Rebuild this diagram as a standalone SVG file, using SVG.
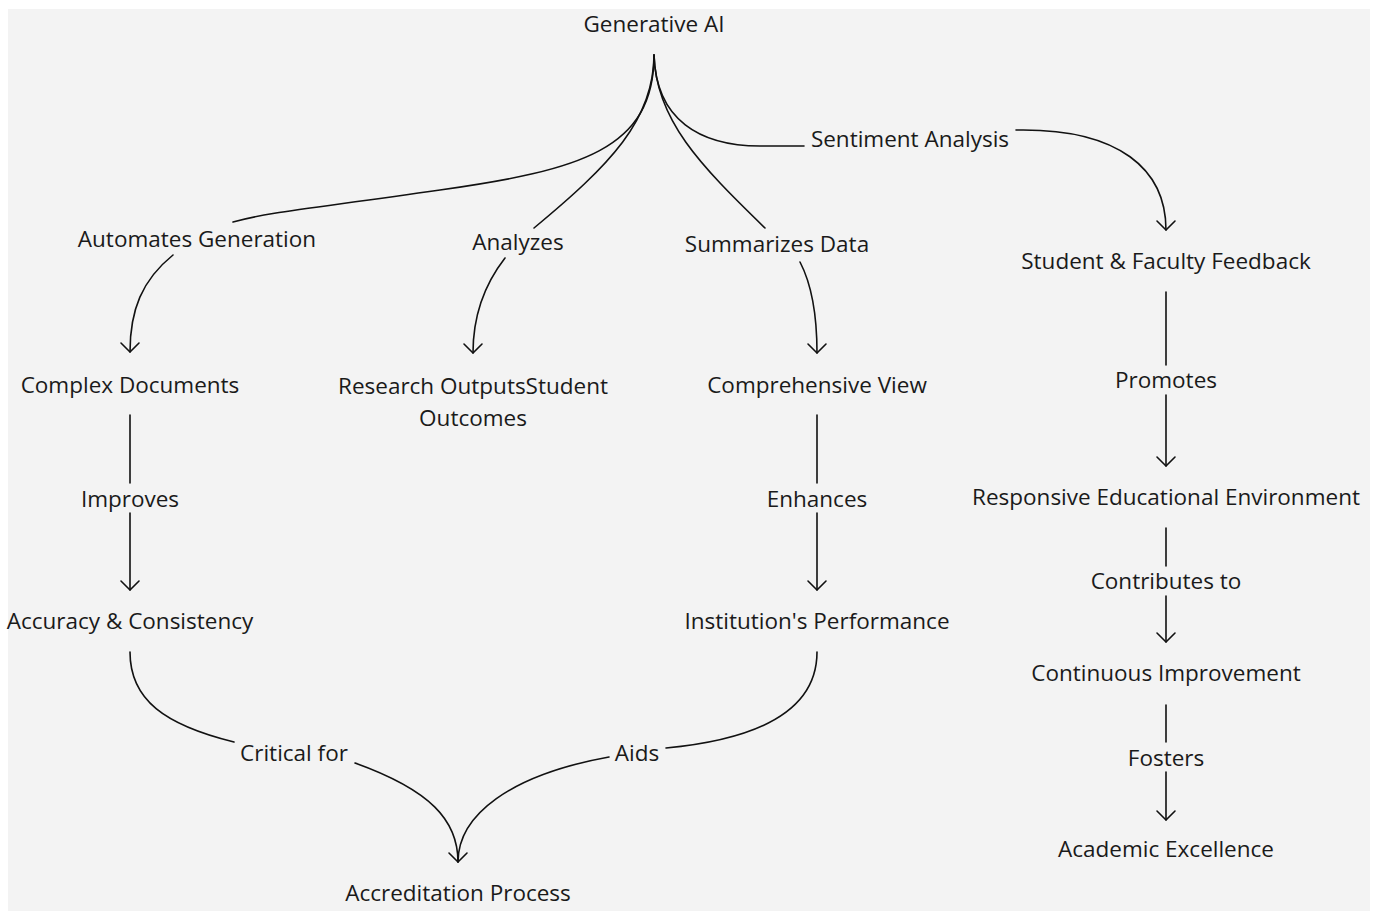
<svg xmlns="http://www.w3.org/2000/svg" width="1374" height="913" viewBox="0 0 1374 913">
<style>
text{font-family:"Open Sans","Noto Sans","Liberation Sans",sans-serif;font-size:22.5px;fill:#1a1a1a;text-anchor:middle;dominant-baseline:central}
.e{fill:none;stroke:#111;stroke-width:1.6;stroke-linecap:round}
.a{fill:none;stroke:#111;stroke-width:1.6;stroke-linecap:round;stroke-linejoin:round}
</style>
<rect x="0" y="0" width="1374" height="913" fill="#ffffff"/>
<rect x="8" y="9" width="1362" height="902" fill="#f3f3f3"/>
<g id="connectors">
<path class="e" d="M654,55 C654,150 580,170 440,190 S270,212 233,222"/>
<path class="e" d="M173,255 C142,280 130,310 130,352"/>
<path class="a" d="M121,343 L130,352 L139,343"/>
<path class="e" d="M654,55 C654,120 610,165 534,228"/>
<path class="e" d="M505,258 C484,285 473,315 473,353"/>
<path class="a" d="M464,344 L473,353 L482,344"/>
<path class="e" d="M654,55 C656,120 700,165 765,228"/>
<path class="e" d="M800,262 C812,285 817,315 817,353"/>
<path class="a" d="M808,344 L817,353 L826,344"/>
<path class="e" d="M654,55 C656,120 700,146 760,146 L804,146"/>
<path class="e" d="M1016,130 C1120,128 1166,170 1166,230"/>
<path class="a" d="M1157,221 L1166,230 L1175,221"/>
<path class="e" d="M130,415 L130,483 M130,513 L130,590"/>
<path class="a" d="M121,581 L130,590 L139,581"/>
<path class="e" d="M817,415 L817,483 M817,513 L817,590"/>
<path class="a" d="M808,581 L817,590 L826,581"/>
<path class="e" d="M1166,292 L1166,365 M1166,395 L1166,466"/>
<path class="a" d="M1157,457 L1166,466 L1175,457"/>
<path class="e" d="M1166,528 L1166,566 M1166,596 L1166,642"/>
<path class="a" d="M1157,633 L1166,642 L1175,633"/>
<path class="e" d="M1166,705 L1166,742 M1166,772 L1166,820"/>
<path class="a" d="M1157,811 L1166,820 L1175,811"/>
<path class="e" d="M130,652 C130,700 165,725 234,742"/>
<path class="e" d="M355,763 C430,790 458,820 458,862"/>
<path class="e" d="M817,652 C817,715 750,740 666,748"/>
<path class="e" d="M609,757 C510,775 458,815 458,862"/>
<path class="a" d="M449,853 L458,862 L467,853"/>
</g>
<g id="n-genai"><text x="654" y="23">Generative AI</text></g>
<g id="l-automates"><text x="197" y="238">Automates Generation</text></g>
<g id="l-analyzes"><text x="518" y="241">Analyzes</text></g>
<g id="l-summarizes"><text x="777" y="243">Summarizes Data</text></g>
<g id="l-sentiment"><text x="910" y="138">Sentiment Analysis</text></g>
<g id="n-feedback"><text x="1166" y="260">Student &amp; Faculty Feedback</text></g>
<g id="n-complex"><text x="130" y="384">Complex Documents</text></g>
<g id="n-research"><text x="473" y="385">Research OutputsStudent</text><text x="473" y="417">Outcomes</text></g>
<g id="n-comprehensive"><text x="817" y="384">Comprehensive View</text></g>
<g id="l-improves"><text x="130" y="498">Improves</text></g>
<g id="l-enhances"><text x="817" y="498">Enhances</text></g>
<g id="l-promotes"><text x="1166" y="379">Promotes</text></g>
<g id="n-responsive"><text x="1166" y="496">Responsive Educational Environment</text></g>
<g id="n-accuracy"><text x="130" y="620">Accuracy &amp; Consistency</text></g>
<g id="n-institution"><text x="817" y="620">Institution's Performance</text></g>
<g id="l-contributes"><text x="1166" y="580">Contributes to</text></g>
<g id="n-continuous"><text x="1166" y="672">Continuous Improvement</text></g>
<g id="l-critical"><text x="294" y="752">Critical for</text></g>
<g id="l-aids"><text x="637" y="752">Aids</text></g>
<g id="l-fosters"><text x="1166" y="757">Fosters</text></g>
<g id="n-academic"><text x="1166" y="848">Academic Excellence</text></g>
<g id="n-accreditation"><text x="458" y="892">Accreditation Process</text></g>
</svg>
